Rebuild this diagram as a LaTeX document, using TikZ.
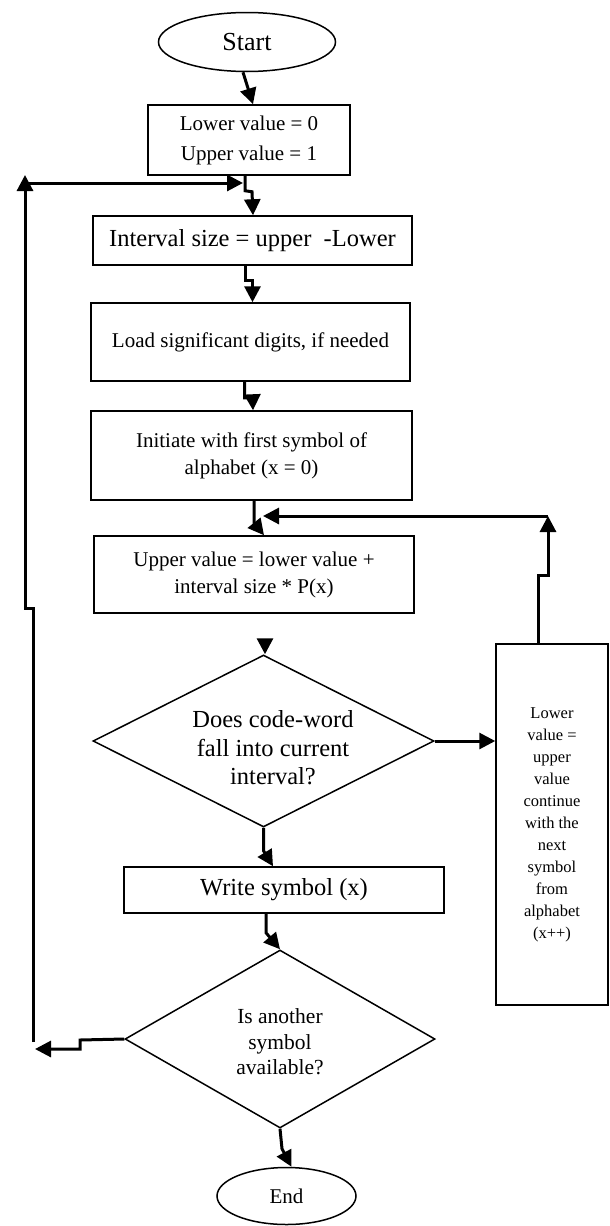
\documentclass[tikz,border=0pt]{standalone}
\usepackage{fontspec}
\setmainfont{Liberation Serif}
\usetikzlibrary{shapes.geometric,arrows.meta,calc}
\tikzset{
  box/.style={draw, line width=1.5pt, inner sep=0pt, align=center, rectangle},
  oval/.style={draw, line width=1.5pt, inner sep=0pt, ellipse, align=center},
  dia/.style={draw, line width=1.5pt, inner sep=0pt, diamond},
  txt/.style={align=center, inner sep=0pt},
  fA/.style={font=\fontsize{21}{27}\selectfont},
  fB/.style={font=\fontsize{24.5}{28.5}\selectfont},
  fC/.style={font=\fontsize{16.5}{22}\selectfont},
  arr/.style={line width=3pt, -{Triangle[length=16pt,width=16pt]}},
}
\begin{document}
\begin{tikzpicture}[x=1pt,y=-1pt]
\useasboundingbox[fill=white] (0,0) rectangle (610,1226);
% nodes
\node[oval, minimum width=177pt, minimum height=59pt, font=\fontsize{26}{30}\selectfont] (start) at (247,42) {Start};
\node[box, fA, minimum width=202pt, minimum height=70pt, font=\fontsize{21}{30}\selectfont] (b1) at (249,140) {Lower value = 0\\Upper value = 1};
\node[box, fB, minimum width=319pt, minimum height=49pt] (b2) at (252.5,240.5) {Interval size = upper\ \ -Lower};
\node[box, fA, minimum width=319pt, minimum height=78pt] (b3) at (250.5,342) {Load significant digits, if needed};
\node[box, fA, minimum width=321pt, minimum height=89pt] (b4) at (251.5,455.5) {Initiate with first symbol of\\alphabet (x = 0)};
\node[box, fA, minimum width=320pt, minimum height=77pt] (b5) at (254,574.5) {Upper value = lower value +\\interval size * P(x)};
\node[dia, minimum width=341pt, minimum height=172pt] (d1) at (263.5,741) {};
\node[txt, fB] (d1t) at (273,748) {Does code-word\\fall into current\\interval?};
\node[box, fC, minimum width=112pt, minimum height=361pt] (rb) at (552,824.5) {Lower\\value =\\upper\\value\\continue\\with the\\next\\symbol\\from\\alphabet\\(x++)};
\node[box, fB, minimum width=320pt, minimum height=46pt] (b6) at (284,890) {Write symbol (x)};
\node[dia, minimum width=310pt, minimum height=178pt] (d2) at (280,1039) {};
\node[txt, font=\fontsize{21.5}{25.5}\selectfont] (d2t) at (280,1042) {Is another\\symbol\\available?};
\node[oval, minimum width=139pt, minimum height=57pt, fA] (end) at (286.5,1196) {End};
% helper coordinates
\coordinate (tl) at (25,183);
\coordinate (j1) at (243,183);
\coordinate (lb) at (33,1042);
\coordinate (l1) at (35,1049);
\coordinate (r1) at (548,516);
\coordinate (r2) at (263,516);
\coordinate (a0) at (265,639);
% connectors
\draw[arr] ([xshift=-4pt]start.south) -- ([xshift=4pt]b1.north);
\draw[arr] ([xshift=-4pt]b1.south) -- ++(0,15) -- ++(7,1) -- ([xshift=0.5pt]b2.north);
\draw[arr] (lb) -- (33,608) -- (25,608) -- (25,175);
\draw[arr] (tl) -- (j1);
\draw[arr] ([xshift=-7pt]b2.south) -- ++(0,15) -- ++(7,0) -- ([xshift=2pt]b3.north);
\draw[arr] ([xshift=-6pt]b3.south) -- ++(0,16) -- ++(8,0) -- ([xshift=1.5pt]b4.north);
\draw[arr] ([xshift=2.5pt]b4.south) -- ++(0,22) -- ([xshift=10pt]b5.north);
\draw[arr] ([xshift=-14pt]rb.north) -- ++(0,-68) -- ++(10,0) -- (r1);
\draw[arr] (r1) -- (r2);
\draw[arr] (a0) -- ([xshift=1.5pt]d1.north);
\draw[arr] (d1.east) -- (d1.east -| rb.west);
\draw[arr] (d1.south) -- ++(0,23) -- ([xshift=-11pt]b6.north);
\draw[arr] ([xshift=-18pt]b6.south) -- ++(0,19) -- (d2.north);
\draw[arr] (d2.south) -- ++(2,20) -- ([xshift=5pt]end.north);
\draw[arr] (d2.west) -- (80,1040) -- (80,1049) -- (l1);
\end{tikzpicture}
\end{document}
